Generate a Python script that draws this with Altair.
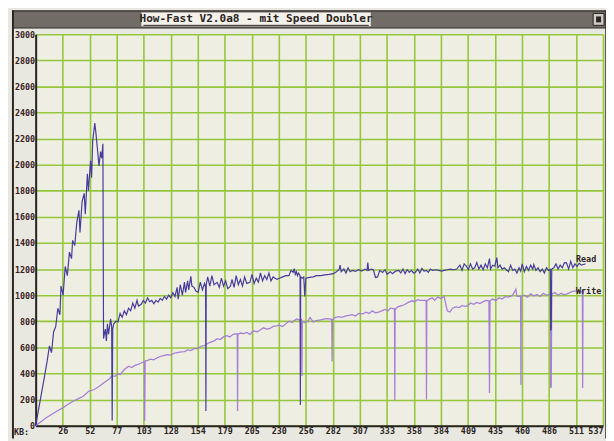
import json
import altair as alt
import pandas as pd

# ---- data (x in KB, y = throughput) ----
read_points = [
    (0, 0), (4, 180), (8, 360), (11, 500), (13, 610), (15, 560), (17, 720), (19, 760), (21, 900), (23, 850),
    (24, 1070), (26, 1000), (28, 1220), (30, 1150), (32, 1330), (34, 1280), (35, 1420), (37, 1380), (39, 1560),
    (41, 1650), (42, 1480), (44, 1720), (46, 1780), (47, 1620), (49, 1930), (50, 1800), (52, 2030), (53, 1900),
    (54, 2180), (55, 2250), (56, 2320), (57, 2250), (58.4, 2130), (60, 1990), (61.5, 2100), (62.5, 2050),
    (63.7, 2160), (64, 1400), (64.3, 667), (65, 700), (66, 740), (67, 650), (68, 780), (69, 700), (71, 818),
    (72, 760), (72.5, 40), (73, 740), (74, 780), (76, 800), (78, 795), (80, 860), (82, 830), (84, 880), (86, 850),
    (88, 900), (90, 880), (92, 940), (94, 900), (96, 960), (97.4, 917), (100, 930), (102, 960), (104, 940),
    (106, 980), (108, 950), (110, 960), (112, 935), (114, 960), (116, 947), (118, 975), (120, 960), (122, 990),
    (124, 970), (126, 1000), (128, 980), (130, 1020), (132, 990), (134, 1060), (135, 970), (137, 1080),
    (139, 1000), (141, 1100), (142, 1020), (144, 1110), (145, 1040), (147, 1144), (148, 1070), (150, 1060),
    (152, 1030), (154, 1023), (156, 1100), (158, 1040), (160, 1090), (161, 1060), (161.3, 113), (161.6, 1080),
    (163, 1140), (165, 1070), (167, 1150), (169, 1080), (172, 1098), (174, 1060), (176, 1130), (178, 1070),
    (180, 1110), (182, 1050), (184.5, 1068), (186, 1120), (188, 1060), (190, 1150), (192, 1080), (194, 1120),
    (196, 1070), (198, 1140), (200, 1090), (203, 1098), (205, 1160), (207, 1090), (209, 1130), (211, 1100),
    (213, 1170), (215, 1110), (217, 1150), (219, 1120), (221, 1170), (223, 1110), (225, 1140), (228.5, 1121),
    (231, 1130), (234, 1140), (237, 1150), (240, 1150), (242, 1190), (244, 1174), (245, 1204), (246, 1160),
    (247, 1180), (248, 1150), (249, 1170), (250.5, 1150), (250.8, 159), (251.1, 1140), (252.5, 1130),
    (254, 1140), (255, 990), (256, 1130), (259.6, 1136), (263, 1140), (266, 1150), (270, 1150), (274, 1155),
    (278, 1159), (282, 1165), (285, 1180), (287.5, 1197), (288.5, 1230), (289.5, 1180), (292, 1200),
    (294, 1170), (296, 1210), (298, 1180), (300, 1190), (303, 1182), (306, 1195), (309, 1185), (312, 1200),
    (314, 1190), (314.7, 1250), (315.5, 1190), (318, 1200), (320, 1195), (322, 1136), (324, 1140), (326, 1190),
    (328.7, 1174), (331, 1195), (333, 1160), (336, 1180), (338, 1165), (341, 1184), (344, 1190), (346, 1170),
    (348, 1200), (350, 1165), (352, 1195), (354, 1175), (356, 1190), (358, 1170), (359.6, 1174), (362, 1200),
    (364, 1170), (366, 1205), (368, 1185), (370, 1190), (372, 1175), (374, 1200), (376, 1190), (379, 1195),
    (382, 1190), (384.7, 1184), (387, 1190), (390, 1195), (393, 1200), (396, 1195), (399, 1200), (402, 1230),
    (404, 1190), (406, 1240), (408, 1222), (410, 1195), (412, 1240), (414, 1200), (416, 1210), (418, 1250),
    (420, 1200), (422, 1230), (424, 1195), (426, 1240), (428, 1210), (430, 1280), (431, 1200), (433, 1230),
    (435, 1222), (437, 1288), (438, 1210), (440, 1230), (442, 1200), (444, 1210), (446, 1195), (448, 1180),
    (450, 1230), (452, 1190), (454, 1200), (456, 1170), (458, 1210), (459.6, 1184), (461, 1240), (463, 1180),
    (465, 1220), (467, 1190), (469, 1230), (471, 1200), (472, 1235), (474, 1190), (476, 1210), (478, 1180),
    (480, 1200), (482, 1170), (484, 1210), (486, 1190), (487.7, 1197), (488, 730), (488.5, 740), (489, 1200),
    (491, 1210), (493, 1240), (495, 1200), (497, 1230), (499, 1210), (501, 1250), (503, 1248), (505, 1200),
    (507, 1260), (509, 1210), (511, 1240), (513, 1220), (515, 1245), (517, 1230), (519, 1235), (521, 1240),
]

write_points = [
    (0, 0), (5, 30), (10, 60), (15, 85), (20, 110), (25.6, 136), (30, 160), (35, 185), (40, 205), (45, 225),
    (50.6, 265), (55, 275), (60, 300), (65, 330), (70, 360), (72, 379), (75.6, 379), (78, 400), (80, 390),
    (84, 430), (88, 455), (91, 445), (94, 462), (97, 470), (100, 480), (103, 492), (103.3, 38), (103.7, 495),
    (106, 500), (109, 510), (112, 505), (115, 520), (118, 530), (122, 538), (125, 545), (128, 540), (131, 555),
    (134, 560), (138, 565), (141, 568), (144, 580), (147, 575), (150, 590), (153.6, 591), (157, 610),
    (160, 614), (163, 630), (166, 640), (169, 650), (172, 667), (175, 660), (178, 680), (181, 690), (184, 680),
    (187, 700), (191, 705), (191.3, 113), (191.6, 700), (194, 710), (197, 705), (200, 715), (203, 700),
    (206, 725), (210, 720), (213, 735), (216, 750), (219, 740), (222, 745), (225, 760), (228.5, 765),
    (231, 770), (234, 760), (237, 780), (240, 800), (243, 790), (247, 818), (250, 810), (252, 815),
    (252.3, 380), (252.6, 800), (255, 790), (258, 800), (260, 830), (263, 795), (266, 805), (270, 810),
    (274, 818), (276, 820), (280.6, 815), (280.9, 492), (281.2, 810), (284, 830), (287, 835), (290, 830),
    (294, 841), (297, 845), (300, 850), (303, 840), (306, 860), (309.7, 856), (313, 870), (316, 860),
    (319, 880), (322, 865), (325, 870), (328.5, 881), (331, 890), (334, 880), (336, 900), (340, 895),
    (340.3, 195), (340.6, 890), (343, 910), (347, 919), (350, 930), (353, 945), (356.6, 957), (359, 950),
    (362, 965), (364, 960), (370, 960), (370.3, 200), (370.6, 955), (373, 970), (376, 980), (378, 960),
    (381, 985), (384, 975), (387, 990), (390, 880), (392.4, 871), (395, 900), (398, 910), (401, 905),
    (404, 920), (407, 915), (409.6, 919), (412, 940), (415, 930), (418, 945), (421, 935), (424, 950),
    (427, 960), (429.5, 955), (430, 250), (430.5, 957), (433, 970), (436, 960), (439, 980), (442, 970),
    (445, 990), (447, 985), (450, 990), (452, 1000), (455, 1045), (456, 990), (459.5, 990), (459.8, 313),
    (460.1, 990), (463, 1000), (466, 985), (469, 1010), (472, 995), (475, 1005), (478, 990), (481, 1015),
    (484, 1000), (487.7, 1008), (488, 288), (488.5, 300), (489, 1008), (492, 1020), (495, 1000), (498, 1015),
    (500, 1005), (503, 1008), (506, 1020), (509, 1030), (512, 1033), (515, 1025), (518, 1030), (518.3, 288),
    (518.6, 1030), (520, 1035),
]

x_tick_labels = ["", "26", "52", "77", "103", "128", "154", "179", "205", "230", "256", "282",
                 "307", "333", "358", "384", "409", "435", "460", "486", "511", "537"]
x_tick_step = 25.6
y_ticks = list(range(0, 3001, 200))
series_names = ["Read", "Write"]
series_colors = ["#473d9c", "#a67fd6"]
end_labels = pd.DataFrame({"kb": [512, 512], "val": [1280, 1035], "label": ["Read", "Write"]})
title_text = "How-Fast V2.0a8 - mit Speed Doubler"

# ---- build table ----
rows = [{"kb": k, "val": v, "series": "Read"} for k, v in read_points]
rows += [{"kb": k, "val": v, "series": "Write"} for k, v in write_points]
df = pd.DataFrame(rows)

x_vals = [round(i * x_tick_step, 1) for i in range(len(x_tick_labels))]
label_expr = json.dumps(x_tick_labels) + "[round(datum.value / %s)]" % x_tick_step

W, H = 574, 396
DARK = "#2b2424"
GRID = "#95c73c"
MONO = "DejaVu Sans Mono"

xs = alt.Scale(domain=[0, 537.6], nice=False, zero=False)
ys = alt.Scale(domain=[0, 3000], nice=False)
cs = alt.Scale(domain=series_names, range=series_colors)

x_axis = alt.Axis(values=x_vals, labelExpr=label_expr, labelOverlap=False, labelFlush=False,
                  labelAlign={"expr": "datum.value > 530 ? 'right' : 'center'"},
                  labelColor=DARK, title=None)
y_axis = alt.Axis(values=y_ticks, format="d", labelOverlap=False, labelFlush=False,
                  labelColor="#3a2222", title=None)

base = alt.Chart(df)

lines_write = base.transform_filter(alt.datum.series == "Write").mark_line(
    strokeWidth=1.3, interpolate="linear"
).encode(
    x=alt.X("kb:Q", scale=xs, axis=x_axis),
    y=alt.Y("val:Q", scale=ys, axis=y_axis),
    color=alt.Color("series:N", scale=cs, legend=None),
)

lines_read = base.transform_filter(alt.datum.series == "Read").mark_line(
    strokeWidth=1.2, interpolate="linear"
).encode(
    x=alt.X("kb:Q", scale=xs, axis=x_axis),
    y=alt.Y("val:Q", scale=ys, axis=y_axis),
    color=alt.Color("series:N", scale=cs, legend=None),
)

labels = alt.Chart(end_labels).mark_text(
    align="left", baseline="middle", font=MONO, fontWeight="bold", fontSize=8.5, color=DARK
).encode(x=alt.X("kb:Q", scale=xs, axis=x_axis), y=alt.Y("val:Q", scale=ys, axis=y_axis),
         text="label:N")

one = alt.Chart(pd.DataFrame({"d": [0]}))

# window chrome (title bar, borders) in pixel units relative to the plot origin
title_bar = one.mark_rect(fill="#726c67").encode(
    x=alt.value(-23), x2=alt.value(577), y=alt.value(-23), y2=alt.value(-7))
title_box = one.mark_rect(fill="#f3f1ea").encode(
    x=alt.value(107), x2=alt.value(339), y=alt.value(-22), y2=alt.value(-8))
title_txt = one.mark_text(
    text=title_text, font=MONO, fontWeight="bold", fontSize=11.2, color=DARK,
    align="center", baseline="middle").encode(x=alt.value(223), y=alt.value(-15.5))
title_ul = one.mark_rule(color=DARK, strokeWidth=1).encode(
    x=alt.value(109), x2=alt.value(337), y=alt.value(-9))
close_box = one.mark_rect(fill="#cfcbc3", stroke=DARK, strokeWidth=1).encode(
    x=alt.value(564), x2=alt.value(575), y=alt.value(-21), y2=alt.value(-9))
close_inner = one.mark_rect(fill=DARK).encode(
    x=alt.value(567), x2=alt.value(572), y=alt.value(-18), y2=alt.value(-12))
top_border = one.mark_rule(color=DARK, strokeWidth=1.5).encode(
    x=alt.value(-24), x2=alt.value(578), y=alt.value(-23.5))
bar_bottom = one.mark_rule(color=DARK, strokeWidth=1.2).encode(
    x=alt.value(-23), x2=alt.value(577), y=alt.value(-6.5))
left_border = one.mark_rule(color=DARK, strokeWidth=2).encode(
    x=alt.value(-23), y=alt.value(-24), y2=alt.value(409))
right_border = one.mark_rule(color=DARK, strokeWidth=1.5).encode(
    x=alt.value(577), y=alt.value(-24), y2=alt.value(409))
kb_label = one.mark_text(
    text="KB:", font=MONO, fontWeight="bold", fontSize=8.5, color=DARK,
    align="left", baseline="top").encode(x=alt.value(-22), y=alt.value(398))

chart = alt.layer(
    title_bar, title_box, title_txt, title_ul, close_box, close_inner,
    top_border, bar_bottom, left_border, right_border, kb_label,
    lines_write, lines_read, labels,
).properties(
    width=W, height=H,
    autosize=alt.AutoSizeParams(type="none"),
    padding={"left": 28, "top": 24, "right": 3, "bottom": 13},
    background="#e9e8e0",
).configure_view(
    fill="#efeee2", strokeWidth=0
).configure_axis(
    grid=True, gridColor=GRID, gridWidth=1.6, ticks=False, domain=True, domainColor=DARK,
    domainWidth=2, labelFont=MONO, labelFontWeight="bold", labelFontSize=8.5,
    labelPadding=1, labelOverlap=False, labelFlush=False, labelBound=False
)

chart.save("out.html", embed_options={"renderer": "svg", "actions": False})
